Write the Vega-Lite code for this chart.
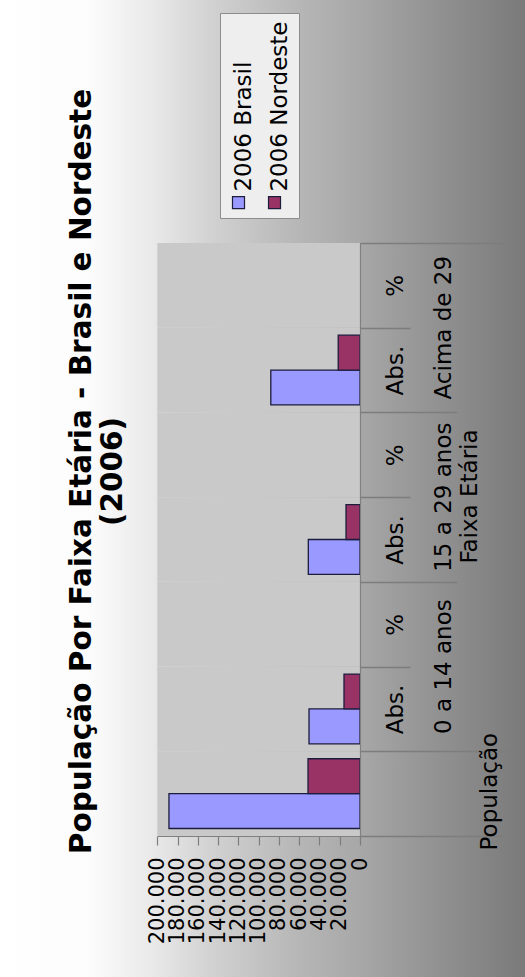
{
  "$schema": "https://vega.github.io/schema/vega-lite/v6.json",
  "width": 525,
  "height": 977,
  "autosize": {"type": "none"},
  "padding": 0,
  "background": "#ffffff",
  "config": {
    "locale": {"number": {"decimal": ",", "thousands": ".", "grouping": [3], "currency": ["R$", ""]}},
    "view": {"stroke": null},
    "font": "DejaVu Sans"
  },
  "title": {
    "text": ["População Por Faixa Etária - Brasil e Nordeste", "(2006)"],
    "orient": "left",
    "anchor": "middle",
    "frame": "group",
    "font": "DejaVu Sans",
    "fontSize": 29.5,
    "fontWeight": "bold",
    "color": "#000000",
    "lineHeight": 31,
    "offset": 0,
    "dx": 17,
    "dy": 128,
    "zindex": 1
  },
  "datasets": {
    "faixas": [
      {"chave": "Acima de 29|%"},
      {"chave": "Acima de 29|Abs."},
      {"chave": "15 a 29 anos|%"},
      {"chave": "15 a 29 anos|Abs."},
      {"chave": "0 a 14 anos|%"},
      {"chave": "0 a 14 anos|Abs."},
      {"chave": "População"}
    ],
    "populacao": [
      {"chave": "População", "serie": "2006 Brasil", "valor": 188500},
      {"chave": "População", "serie": "2006 Nordeste", "valor": 51300},
      {"chave": "0 a 14 anos|Abs.", "serie": "2006 Brasil", "valor": 50300},
      {"chave": "0 a 14 anos|Abs.", "serie": "2006 Nordeste", "valor": 15800},
      {"chave": "15 a 29 anos|Abs.", "serie": "2006 Brasil", "valor": 51000},
      {"chave": "15 a 29 anos|Abs.", "serie": "2006 Nordeste", "valor": 13800},
      {"chave": "Acima de 29|Abs.", "serie": "2006 Brasil", "valor": 88000},
      {"chave": "Acima de 29|Abs.", "serie": "2006 Nordeste", "valor": 21500}
    ]
  },
  "layer": [
    {
      "data": {"values": [{}]},
      "mark": {
        "type": "rect",
        "fill": {
          "gradient": "linear",
          "x1": 0, "y1": 0, "x2": 1, "y2": 0,
          "stops": [
            {"offset": 0, "color": "#ffffff"},
            {"offset": 0.17, "color": "#fcfcfc"},
            {"offset": 0.29, "color": "#e9e9e9"},
            {"offset": 0.4, "color": "#d2d2d2"},
            {"offset": 0.57, "color": "#b6b6b6"},
            {"offset": 0.69, "color": "#a7a7a7"},
            {"offset": 0.76, "color": "#9c9c9c"},
            {"offset": 1, "color": "#7a7a7a"}
          ]
        }
      },
      "encoding": {}
    },
    {
      "data": {"name": "faixas"},
      "mark": {"type": "bar", "fill": "#c9c9c9", "strokeWidth": 0},
      "encoding": {
        "y": {
          "field": "chave", "type": "nominal", "axis": null,
          "scale": {"domain": ["Acima de 29|%", "Acima de 29|Abs.", "15 a 29 anos|%", "15 a 29 anos|Abs.", "0 a 14 anos|%", "0 a 14 anos|Abs.", "População"], "range": [243, 836], "paddingInner": 0, "paddingOuter": 0}
        },
        "x": {"datum": 0, "type": "quantitative", "scale": {"domain": [0, 200000], "range": [360, 157.3], "nice": false, "zero": true}},
        "x2": {"datum": 200000}
      }
    },
    {
      "data": {"name": "populacao"},
      "mark": {"type": "bar", "stroke": "#1c1c3c", "strokeWidth": 1.3},
      "encoding": {
        "y": {
          "field": "chave", "type": "nominal",
          "scale": {"domain": ["Acima de 29|%", "Acima de 29|Abs.", "15 a 29 anos|%", "15 a 29 anos|Abs.", "0 a 14 anos|%", "0 a 14 anos|Abs.", "População"], "range": [243, 836], "paddingInner": 0, "paddingOuter": 0},
          "axis": {
            "orient": "right",
            "offset": -165,
            "zindex": 1,
            "domain": true,
            "domainColor": "#808080",
            "domainWidth": 1.2,
            "grid": false,
            "ticks": true,
            "tickBand": "extent",
            "tickColor": "#7d7d7d",
            "tickWidth": 1.3,
            "tickSize": {
              "condition": [
                {"test": "datum.value && indexof(datum.value, '|%') >= 0", "value": 50},
                {"test": "datum.value === '15 a 29 anos|Abs.' || datum.value === 'Acima de 29|Abs.'", "value": 97}
              ],
              "value": 147
            },
            "labelExpr": "datum.value && indexof(datum.value, '|') >= 0 ? split(datum.value, '|')[1] : ''",
            "labelAngle": 270,
            "labelAlign": "center",
            "labelBaseline": "top",
            "labelFont": "DejaVu Sans",
            "labelFontSize": 23,
            "labelColor": "#000000",
            "labelPadding": {
              "condition": [
                {"test": "datum.value && indexof(datum.value, '|%') >= 0", "value": -26},
                {"test": "datum.value === '0 a 14 anos|Abs.'", "value": -123}
              ],
              "value": -73
            },
            "labelOverlap": false,
            "labelBound": false,
            "labelFlush": false,
            "labelLimit": 0,
            "title": null
          }
        },
        "yOffset": {
          "field": "serie", "type": "nominal",
          "scale": {"domain": ["2006 Nordeste", "2006 Brasil"], "paddingInner": 0, "paddingOuter": 0.2143}
        },
        "x": {
          "field": "valor", "type": "quantitative",
          "scale": {"domain": [0, 200000], "range": [360, 157.3], "nice": false, "zero": true},
          "axis": {
            "orient": "bottom",
            "offset": -141,
            "zindex": 1,
            "domain": true,
            "domainColor": "#808080",
            "domainWidth": 1.2,
            "grid": false,
            "values": [0, 20000, 40000, 60000, 80000, 100000, 120000, 140000, 160000, 180000, 200000],
            "format": ",d",
            "tickColor": "#7d7d7d",
            "tickWidth": 1.2,
            "tickSize": 9,
            "labelAngle": 270,
            "labelAlign": "right",
            "labelBaseline": "middle",
            "labelPadding": 12,
            "labelFont": "DejaVu Sans",
            "labelFontSize": 21,
            "labelColor": "#000000",
            "labelOverlap": false,
            "labelBound": false,
            "labelFlush": false,
            "title": null
          }
        },
        "x2": {"datum": 0},
        "color": {
          "field": "serie", "type": "nominal",
          "scale": {"domain": ["2006 Brasil", "2006 Nordeste"], "range": ["#9999ff", "#993366"]},
          "legend": {
            "orient": "none",
            "legendX": 220,
            "legendY": 13,
            "direction": "horizontal",
            "title": " ",
            "titleFontSize": 8,
            "titlePadding": 163,
            "symbolType": "square",
            "symbolSize": 144,
            "symbolStrokeColor": "#1c1c3c",
            "symbolStrokeWidth": 1.2,
            "symbolOpacity": 1,
            "labelFont": "DejaVu Sans",
            "labelFontSize": 23,
            "labelColor": "#000000",
            "labelOffset": 0,
            "labelLimit": 0,
            "columnPadding": 7,
            "padding": 7,
            "fillColor": "#eeeeee",
            "strokeColor": "#8c8c8c",
            "encoding": {
              "labels": {
                "angle": {"value": 270},
                "align": {"value": "left"},
                "baseline": {"value": "middle"},
                "dx": {"value": 11},
                "dy": {"value": -6}
              }
            }
          }
        }
      }
    },
    {
      "data": {"name": "faixas"},
      "mark": {"type": "point", "opacity": 0},
      "encoding": {
        "y": {
          "field": "chave", "type": "nominal",
          "scale": {"domain": ["Acima de 29|%", "Acima de 29|Abs.", "15 a 29 anos|%", "15 a 29 anos|Abs.", "0 a 14 anos|%", "0 a 14 anos|Abs.", "População"], "range": [243, 836], "paddingInner": 0, "paddingOuter": 0},
          "axis": {
            "orient": "right",
            "offset": -165,
            "zindex": 1,
            "domain": false,
            "ticks": false,
            "grid": false,
            "labelExpr": "datum.value === 'População' ? 'População' : (datum.value && indexof(datum.value, '|Abs.') >= 0 ? split(datum.value, '|')[0] : '')",
            "labelAngle": 270,
            "labelAlign": "center",
            "labelBaseline": "top",
            "labelFont": "DejaVu Sans",
            "labelFontSize": 23,
            "labelColor": "#000000",
            "labelPadding": {"condition": {"test": "datum.value === 'População'", "value": 118}, "value": 72},
            "labelOffset": {"condition": {"test": "datum.value === 'População'", "value": -2}, "value": -42.35},
            "labelOverlap": false,
            "labelBound": false,
            "labelFlush": false,
            "labelLimit": 0,
            "title": "Faixa Etária",
            "titleAngle": 270,
            "titleFont": "DejaVu Sans",
            "titleFontSize": 23,
            "titleFontWeight": "normal",
            "titleColor": "#000000",
            "titleX": 98,
            "titleY": 496,
            "titleAlign": "center",
            "titleBaseline": "top"
          }
        }
      }
    }
  ],
  "resolve": {"axis": {"y": "independent"}}
}
